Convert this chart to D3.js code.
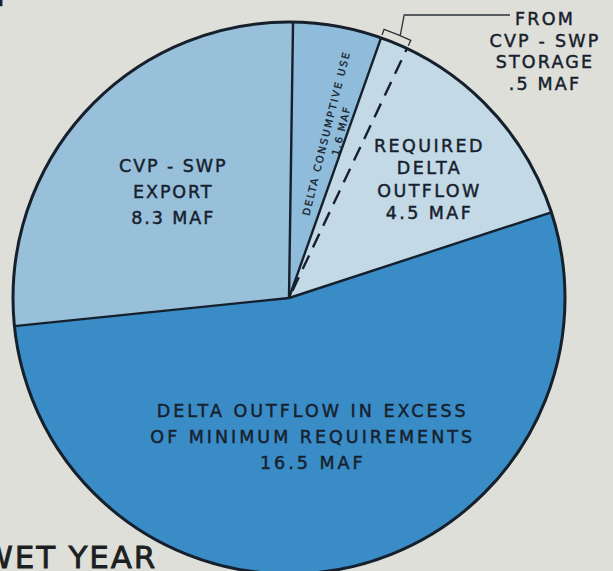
<!DOCTYPE html>
<html>
<head>
<meta charset="utf-8">
<script src="https://cdn.jsdelivr.net/npm/d3@7"></script>
<style>
  html, body { margin: 0; padding: 0; background: #dedfd8; }
  svg { display: block; }
  text { font-family: "DejaVu Sans", sans-serif; fill: #17212e; stroke: #17212e; stroke-width: 0.45; }
</style>
</head>
<body>
<script>
// slices, clockwise starting at the vertical line at the top
// (required delta outflow 4.5 = 4.0 + .5 taken from CVP-SWP storage)
var categories = ["consumptive", "storage", "required", "excess", "export"];
var valuesMAF = [1.6, 0.5, 4.0, 16.5, 8.3];
var sliceColors = ["#8fbcda", "#c3d9e6", "#c3d9e6", "#3a8cc6", "#98c0da"];

var labelLines = {
  export: ["CVP - SWP", "EXPORT", "8.3 MAF"],
  required: ["REQUIRED", "DELTA", "OUTFLOW", "4.5 MAF"],
  excess: ["DELTA OUTFLOW IN EXCESS", "OF MINIMUM REQUIREMENTS", "16.5 MAF"],
  consumptive: ["DELTA CONSUMPTIVE USE", "1.6 MAF"],
  storage: ["FROM", "CVP - SWP", "STORAGE", ".5 MAF"]
};

function polar(angle, r) {
  return [r * Math.sin(angle), -r * Math.cos(angle)];
}

function makePie() {
  var width = 613, height = 571;
  var cx = 289, cy = 298, radius = 276;
  var start = 0.84 * Math.PI / 180;

  var svg = d3.select("body").append("svg")
              .attr("width", width)
              .attr("height", height);

  svg.append("rect")
     .attr("width", width)
     .attr("height", height)
     .attr("fill", "#dedfd8");

  var g = svg.append("g")
             .attr("transform", "translate(" + cx + "," + cy + ")");

  var pie = d3.pie()
              .sort(null)
              .value(function(d) { return d; })
              .startAngle(start)
              .endAngle(start + 2 * Math.PI);
  var arcs = pie(valuesMAF);

  var arc = d3.arc().innerRadius(0).outerRadius(radius);

  g.selectAll("path.slice")
   .data(arcs)
   .enter().append("path")
     .attr("class", "slice")
     .attr("d", arc)
     .attr("fill", function(d, i) { return sliceColors[i]; })
     .attr("stroke", function(d, i) { return sliceColors[i]; })
     .attr("stroke-width", 0.6);

  // radial boundaries, the one between storage and required is dashed
  g.selectAll("line.edge")
   .data(arcs)
   .enter().append("line")
     .attr("class", "edge")
     .attr("x1", function(d, i) { return i == 2 ? polar(d.startAngle, 8)[0] : 0; })
     .attr("y1", function(d, i) { return i == 2 ? polar(d.startAngle, 8)[1] : 0; })
     .attr("x2", function(d) { return polar(d.startAngle, radius)[0]; })
     .attr("y2", function(d) { return polar(d.startAngle, radius)[1]; })
     .attr("stroke", "#16202c")
     .attr("stroke-width", 2.4)
     .attr("stroke-dasharray", function(d, i) { return i == 2 ? "15,9" : null; });

  g.append("circle")
   .attr("r", radius)
   .attr("fill", "none")
   .attr("stroke", "#16202c")
   .attr("stroke-width", 3);

  // bracket over the storage slice
  var st = arcs[1];
  var rb = radius + 9, rt = radius + 3;
  var bracket = d3.path();
  var p = polar(st.startAngle, rt);
  bracket.moveTo(p[0], p[1]);
  p = polar(st.startAngle, rb);
  bracket.lineTo(p[0], p[1]);
  bracket.arc(0, 0, rb, st.startAngle - Math.PI / 2, st.endAngle - Math.PI / 2);
  p = polar(st.endAngle, rt);
  bracket.lineTo(p[0], p[1]);
  var mid = (st.startAngle + st.endAngle) / 2 + 0.01;
  var m = polar(mid, rb);
  bracket.moveTo(m[0], m[1]);
  bracket.lineTo(m[0] + 4, -283);
  bracket.lineTo(221, -283);
  g.append("path")
   .attr("d", bracket.toString())
   .attr("fill", "none")
   .attr("stroke", "#2a3038")
   .attr("stroke-width", 1.3);

  svg.append("g").selectAll("text")
     .data(labelLines.storage)
     .enter().append("text")
       .attr("x", 545)
       .attr("y", function(d, i) { return 25 + i * 21.5; })
       .attr("text-anchor", "middle")
       .attr("font-size", 17.5)
       .attr("letter-spacing", 2.2)
       .text(function(d) { return d; });

  // horizontal block labels, placed around each slice's middle angle
  var placement = {
    export: {i: 4, shift: 0, r: 157, lh: 26, size: 17.5, ls: 1.9},
    required: {i: 2, shift: 0.02, r: 184, lh: 22.5, size: 17.5, ls: 2.4},
    excess: {i: 3, shift: 0.04, r: 141, lh: 26, size: 17.5, ls: 3}
  };
  Object.keys(placement).forEach(function(key) {
    var pl = placement[key];
    var d = arcs[pl.i];
    var c = polar((d.startAngle + d.endAngle) / 2 + pl.shift, pl.r);
    var lines = labelLines[key];
    var top = c[1] - (lines.length - 1) * pl.lh / 2;
    g.append("g").selectAll("text")
     .data(lines)
     .enter().append("text")
       .attr("x", c[0])
       .attr("y", function(t, j) { return top + j * pl.lh + pl.size * 0.37; })
       .attr("text-anchor", "middle")
       .attr("font-size", pl.size)
       .attr("letter-spacing", pl.ls)
       .text(function(t) { return t; });
  });

  // rotated label inside the thin consumptive use slice
  var cu = arcs[0];
  var cc = polar((cu.startAngle + cu.endAngle) / 2 + 0.045, 169);
  var rot = g.append("g")
             .attr("transform", "translate(" + cc[0] + "," + cc[1] + ") rotate(-76)");
  rot.append("text")
     .attr("x", 0)
     .attr("y", 3.5)
     .attr("text-anchor", "middle")
     .attr("font-size", 10)
     .attr("letter-spacing", 1.9)
     .style("stroke-width", 0.3)
     .text(labelLines.consumptive[0]);
  rot.append("text")
     .attr("x", 6)
     .attr("y", 17.5)
     .attr("text-anchor", "middle")
     .attr("font-size", 10)
     .attr("letter-spacing", 1.5)
     .style("stroke-width", 0.3)
     .text(labelLines.consumptive[1]);

  // title pieces cut off by the page edges
  svg.append("text")
     .attr("x", 157)
     .attr("y", 568)
     .attr("text-anchor", "end")
     .attr("font-size", 31)
     .attr("letter-spacing", 1.8)
     .style("fill", "#1c1f22")
     .style("stroke", "#1c1f22")
     .style("stroke-width", 0.8)
     .text("WET YEAR");

  svg.append("text")
     .attr("x", -4)
     .attr("y", 6)
     .attr("font-size", 31)
     .style("fill", "#1c1f22")
     .text("F");
}

window.onload = function() {
  makePie();
};
</script>
</body>
</html>
